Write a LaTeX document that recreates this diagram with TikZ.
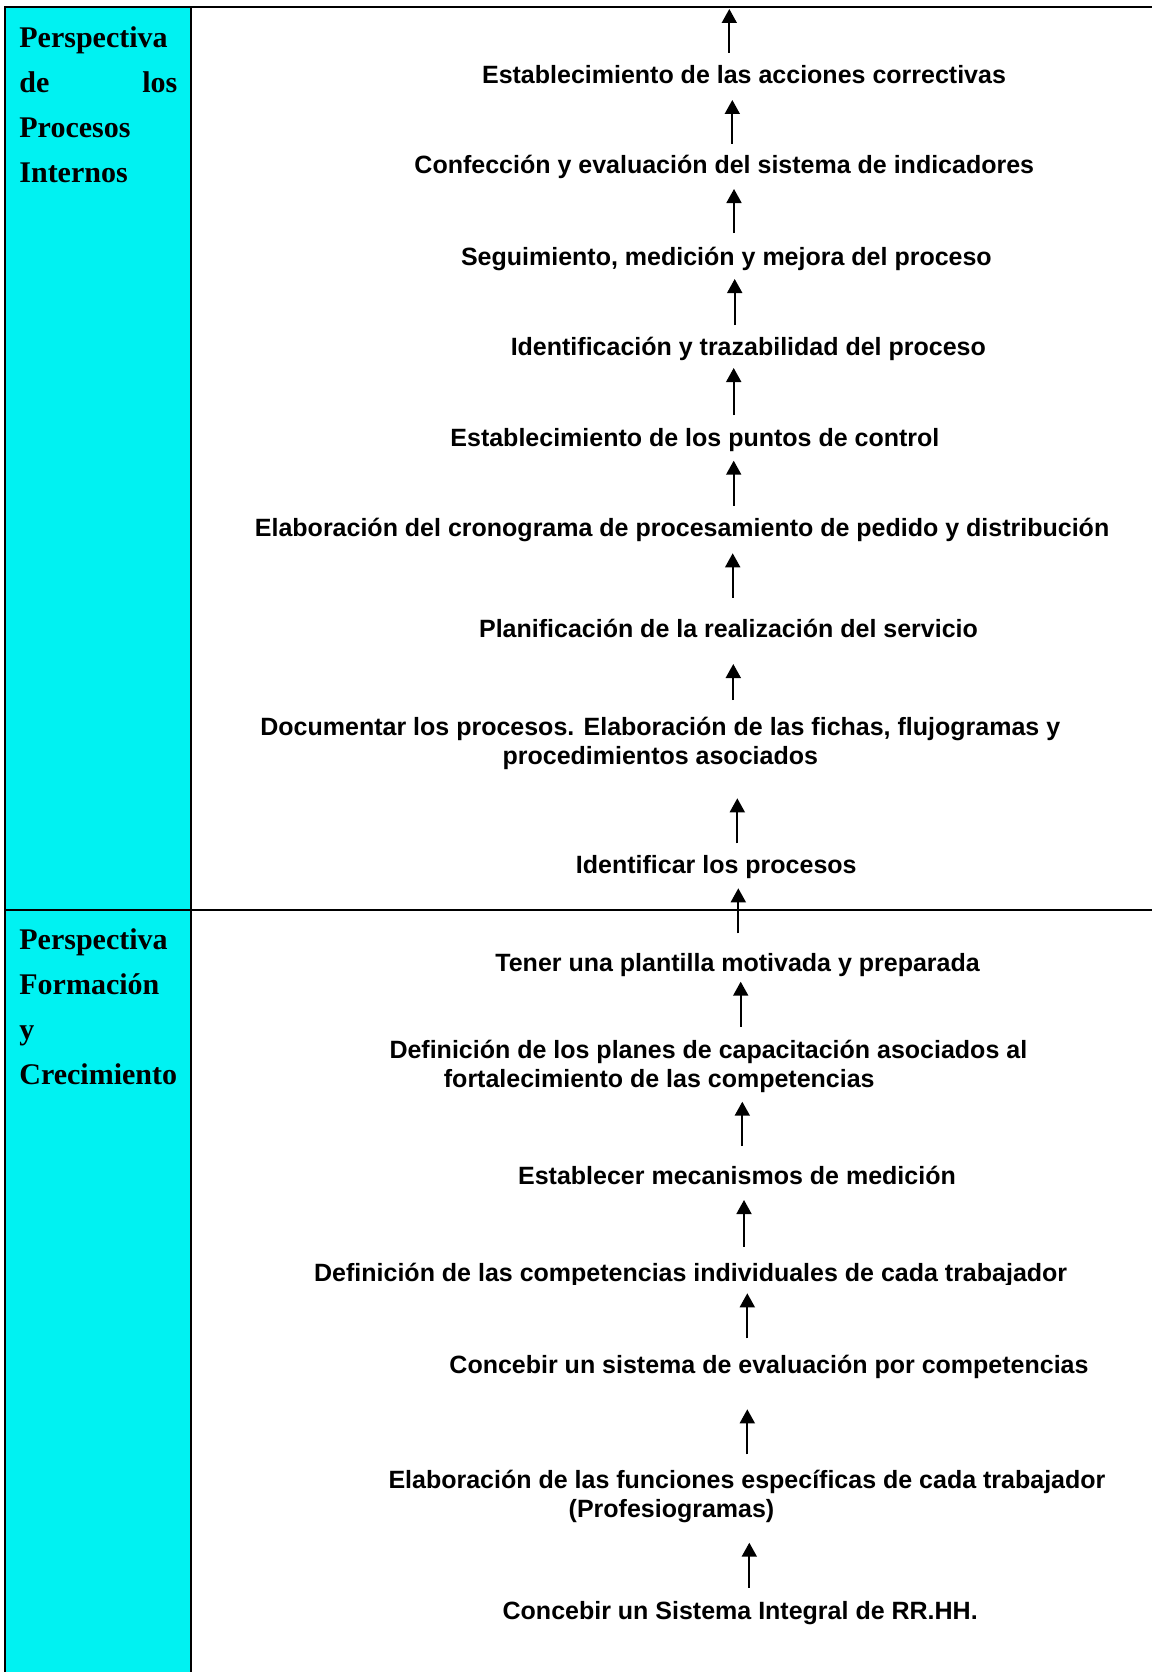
\documentclass[tikz,border=0pt]{standalone}
\usepackage{fontspec}
\setmainfont{Liberation Serif}
\newfontfamily\arialfont{Liberation Sans}
\usetikzlibrary{arrows.meta}
\definecolor{panel}{RGB}{0,242,242}
\begin{document}
\begin{tikzpicture}[x=1pt,y=-1pt,
  rule/.style={line width=2.5pt},
  stage/.style={anchor=base,inner sep=0pt,font=\arialfont\bfseries\fontsize{25}{28.5}\selectfont},
  stagel/.style={stage,anchor=base west,align=left},
  uparrow/.style={line width=1.8pt,-{Triangle[width=15pt,length=14pt]}},
  head/.style={anchor=base west,inner sep=0pt,align=left,text width=158pt,
    font=\bfseries\fontsize{30}{45}\selectfont}]
\useasboundingbox (0,0) rectangle (1152,1672);

% side column and table rules
\fill[panel] (5,7) rectangle (191,1672);
\draw[rule] (5,1672) -- (5,7) -- (1152,7);
\draw[rule] (191,7) -- (191,1672);
\draw[rule] (5,910) -- (1152,910);

% perspective titles
\node[head] (h1) at (19.2,47.7) {Perspectiva\\de\hfill los\\Procesos\\Internos};
\node[head] (h2) at (19.2,949.3) {Perspectiva\\Formación\\y\\Crecimiento};

% internal processes chain (multi-line stages are placed on their last line)
\node[stage] (t1) at (744,83.5) {Establecimiento de las acciones correctivas};
\node[stage] (t2) at (724.3,174) {Confección y evaluación del sistema de indicadores};
\node[stage] (t3) at (726.4,265) {Seguimiento, medición y mejora del proceso};
\node[stage] (t4) at (748.3,355.5) {Identificación y trazabilidad del proceso};
\node[stage] (t5) at (694.9,446) {Establecimiento de los puntos de control};
\node[stage] (t6) at (682.1,536.5) {Elaboración del cronograma de procesamiento de pedido y distribución};
\node[stage] (t7) at (728.5,637.5) {Planificación de la realización del servicio};
\node[stage,align=center] (t8) at (660.3,764) {Documentar los procesos. Elaboración de las fichas, flujogramas y\\procedimientos asociados};
\node[stage] (t9) at (716.3,873.3) {Identificar los procesos};

% learning and growth chain
\node[stage] (t10) at (737.6,971) {Tener una plantilla motivada y preparada};
\node[stagel] (t11) at (389.3,1087) {Definición de los planes de capacitación asociados al\\\hspace*{54.4pt}fortalecimiento de las competencias};
\node[stage] (t12) at (737,1184.3) {Establecer mecanismos de medición};
\begin{scope}
  \clip (191,1240) rectangle (1152,1284);
  \node[stage] (t13) at (690.7,1281.5) {Definición de las competencias individuales de cada trabajador};
\end{scope}
\node[stage] (t14) at (769,1373.3) {Concebir un sistema de evaluación por competencias};
\node[stagel] (t15) at (388.3,1517) {Elaboración de las funciones específicas de cada trabajador\\\hspace*{180.2pt}(Profesiogramas)};
\node[stage] (t16) at (740.2,1619.5) {Concebir un Sistema Integral de RR.HH.};

% arrow end points: name, x, bottom, top
\foreach \n/\x/\yb/\yt in {
  1/729.3/53/9, 2/732.3/144/100, 3/734/233/189, 4/734.7/325/279,
  5/733.7/415/368, 6/733.7/505.7/460.7, 7/732.7/597.7/553.3, 8/733.3/700/664,
  9/737.3/843.3/798.3, 10/738.3/933.3/888.3, 11/740.7/1026.7/981.7,
  12/742.3/1146/1101.7, 13/744/1246.7/1200, 14/747.3/1338.3/1293.3,
  15/747.3/1454.3/1409.3, 16/749.3/1587.7/1542.7}{
  \coordinate (s\n) at (\x,\yb);
  \coordinate (e\n) at (\x,\yt);
  \draw[uparrow] (s\n) -- (e\n);
}
\end{tikzpicture}
\end{document}
